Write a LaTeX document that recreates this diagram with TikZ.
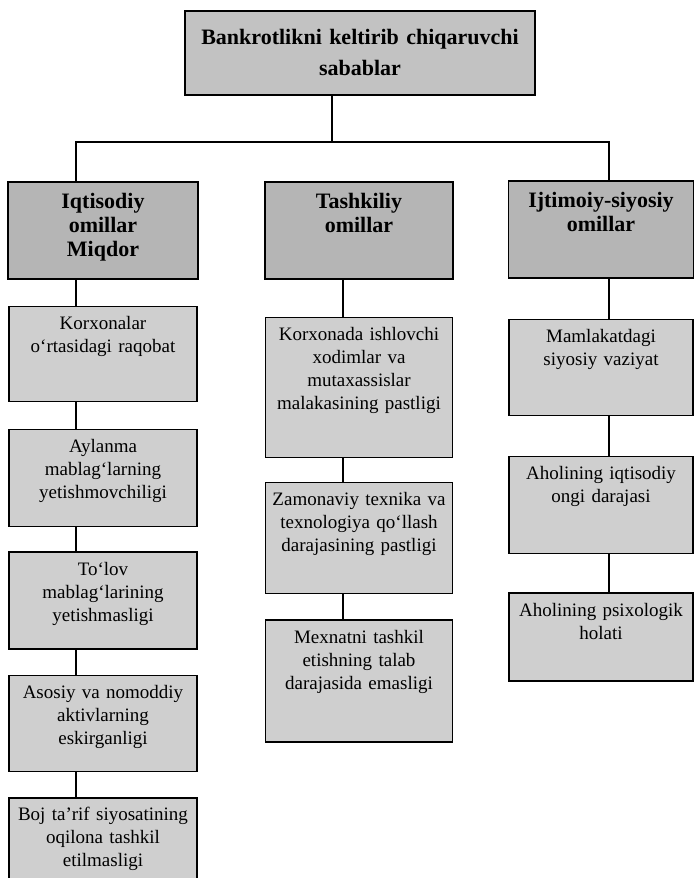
\documentclass[tikz,border=0pt]{standalone}
\usepackage{fontspec}
\setmainfont{Liberation Serif}
\usetikzlibrary{positioning}

\begin{document}
\begin{tikzpicture}[
  cell/.style={draw, line width=0.8pt, align=center, inner xsep=2pt, inner ysep=0pt},
  topbox/.style={cell, fill=gray!48, text width=171pt, font=\bfseries\fontsize{11}{15.5}\selectfont, text height=17pt, text depth=25pt},
  headbox/.style={cell, fill=gray!58, font=\bfseries\fontsize{11}{12}\selectfont, text height=13.5pt, text depth=35pt},
  itembox/.style={cell, line width=0.7pt, fill=gray!38, font=\fontsize{9.5}{11.5}\selectfont, text height=11.5pt, text depth={#1-11.5pt}},
  link/.style={line width=0.6pt}
]
\useasboundingbox (0,0) rectangle (347pt,-439pt);
\node [topbox, anchor=north] (top) at (180pt,-5pt) {Bankrotlikni keltirib chiqaruvchi\\sabablar};
\node [headbox, text width=91pt, anchor=north] (iqt) at (51.5pt,-90.5pt) {Iqtisodiy\\omillar\\Miqdor};
\node [headbox, text width=90pt, anchor=north] (tash) at (179.5pt,-90.5pt) {Tashkiliy\\omillar};
\node [headbox, text width=88.5pt, anchor=north] (ijt) at (300.5pt,-90pt) {Ijtimoiy-siyosiy\\omillar};

\node [itembox=47.5pt, text width=90pt, below=13pt of iqt] (iqt1) {Korxonalar\\o‘rtasidagi raqobat};
\node [itembox=48.5pt, text width=90pt, below=13.5pt of iqt1] (iqt2) {Aylanma\\mablag‘larning\\yetishmovchiligi};
\node [itembox=48.5pt, text width=90pt, below=12pt of iqt2] (iqt3) {To‘lov\\mablag‘larining\\yetishmasligi};
\node [itembox=48pt, text width=90pt, below=12.5pt of iqt3] (iqt4) {Asosiy va nomoddiy\\aktivlarning\\eskirganligi};
\node [itembox=48pt, text width=90pt, below=12.5pt of iqt4] (iqt5) {Boj ta’rif siyosatining\\oqilona tashkil\\etilmasligi};

\node [itembox=70pt, text width=89.5pt, below=18.5pt of tash] (tash1) {Korxonada ishlovchi\\xodimlar va\\mutaxassislar\\malakasining pastligi};
\node [itembox=55.5pt, text width=89.5pt, below=12pt of tash1] (tash2) {Zamonaviy texnika va\\texnologiya qo‘llash\\darajasining pastligi};
\node [itembox=61pt, text width=89.5pt, below=12.5pt of tash2] (tash3) {Mexnatni tashkil\\etishning talab\\darajasida emasligi};

\node [itembox=48pt, text width=88pt, below=20pt of ijt] (ijt1) {Mamlakatdagi\\siyosiy vaziyat};
\node [itembox=48.5pt, text width=88pt, below=20pt of ijt1] (ijt2) {Aholining iqtisodiy\\ongi darajasi};
\node [itembox=44pt, text width=88pt, below=19pt of ijt2] (ijt3) {Aholining psixologik\\holati};

\coordinate (busL) at (38pt,-71pt);
\coordinate (busR) at (304.5pt,-71pt);
\coordinate (axT) at (166pt,0pt);
\coordinate (axM) at (171.5pt,0pt);
\draw [link] (top.south -| axT) -- (axT |- busL);
\draw [link] (iqt.north -| busL) |- (busR) -- (ijt.north -| busR);
\foreach \a/\b in {iqt/iqt1, iqt1/iqt2, iqt2/iqt3, iqt3/iqt4, iqt4/iqt5}
  \draw [link] (\a.south -| busL) -- (\b.north -| busL);
\foreach \a/\b in {tash/tash1, tash1/tash2, tash2/tash3}
  \draw [link] (\a.south -| axM) -- (\b.north -| axM);
\foreach \a/\b in {ijt/ijt1, ijt1/ijt2, ijt2/ijt3}
  \draw [link] (\a.south -| busR) -- (\b.north -| busR);
\end{tikzpicture}
\end{document}
